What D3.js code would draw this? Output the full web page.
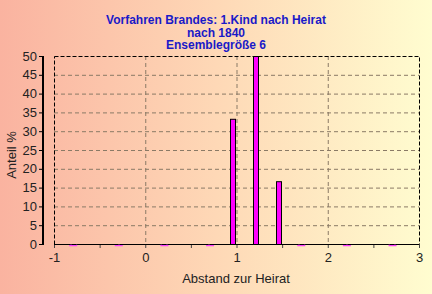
<!DOCTYPE html>
<html>
<head>
<meta charset="utf-8">
<script src="https://cdn.jsdelivr.net/npm/d3@7"></script>
<style>
  html, body { margin: 0; padding: 0; }
  svg { display: block; }
</style>
</head>
<body>
<div id="chart"></div>
<script>
// Werte
const binCenters = [-0.79, -0.29, 0.21, 0.71, 0.96, 1.21, 1.46, 1.71, 2.21, 2.71];
const binValues = [0, 0, 0, 0, 33.3, 50, 16.7, 0, 0, 0];
const xTicks = [-1, -0.5, 0, 0.5, 1, 1.5, 2, 2.5, 3];
const xLabels = [-1, 0, 1, 2, 3];
const yTicks = [0, 5, 10, 15, 20, 25, 30, 35, 40, 45, 50];
const titleLines = ["Vorfahren Brandes: 1.Kind nach Heirat", "nach 1840", "Ensemblegröße 6"];

const W = 432, H = 294;
const svg = d3.select("#chart").append("svg")
    .attr("width", W)
    .attr("height", H);

// Hintergrund-Verlauf
const grad = svg.append("defs").append("linearGradient")
    .attr("id", "bg")
    .attr("x1", "0%").attr("x2", "100%")
    .attr("y1", "0%").attr("y2", "0%");
grad.append("stop").attr("offset", "0%").attr("stop-color", "#fab3a0");
grad.append("stop").attr("offset", "50%").attr("stop-color", "#fed8b6");
grad.append("stop").attr("offset", "100%").attr("stop-color", "#fffdd0");
svg.append("rect").attr("width", W).attr("height", H).attr("fill", "url(#bg)");

const x = d3.scaleLinear().domain([-1, 3]).range([54, 419]);
const y = d3.scaleLinear().domain([0, 50]).range([244, 56]);

const font = "Liberation Sans, Arial, sans-serif";

// Gitter
svg.append("g").selectAll("line").data(yTicks.slice(1, -1)).join("line")
    .attr("x1", x(-1)).attr("x2", x(3))
    .attr("y1", d => y(d) + 0.5).attr("y2", d => y(d) + 0.5)
    .attr("stroke", "#8a7a66").attr("stroke-width", 1)
    .attr("stroke-dasharray", "4,3");

svg.append("g").selectAll("line").data([0, 1, 2]).join("line")
    .attr("x1", d => x(d) + 0.5).attr("x2", d => x(d) + 0.5)
    .attr("y1", y(50)).attr("y2", y(0))
    .attr("stroke", "#8a7a66").attr("stroke-width", 1)
    .attr("stroke-dasharray", "4,3");

// Rahmen (gestrichelt)
svg.append("rect")
    .attr("x", x(-1) + 0.5).attr("y", y(50) + 0.5)
    .attr("width", x(3) - x(-1)).attr("height", y(0) - y(50))
    .attr("fill", "none")
    .attr("stroke", "#000").attr("stroke-width", 1)
    .attr("stroke-dasharray", "4,2");

// Balken
const bw = 5;
svg.append("g").selectAll("rect").data(binCenters).join("rect")
    .attr("x", d => Math.round(x(d) - bw / 2) + 0.5)
    .attr("y", (d, i) => binValues[i] > 0 ? y(binValues[i]) + 0.5 : y(0) + 0.5)
    .attr("width", bw)
    .attr("height", (d, i) => binValues[i] > 0 ? y(0) - y(binValues[i]) : 0)
    .attr("fill", "#ff00ff")
    .attr("stroke", (d, i) => binValues[i] > 0 ? "#000" : "none");

// Nullwerte als magentafarbene Striche
svg.append("g").selectAll("line").data(binCenters.filter((d, i) => binValues[i] === 0)).join("line")
    .attr("x1", d => x(d) - 4).attr("x2", d => x(d) + 4)
    .attr("y1", y(0) + 1.5).attr("y2", y(0) + 1.5)
    .attr("stroke", "#ff40ff").attr("stroke-width", 1.5);

// Grundlinie
svg.append("line")
    .attr("x1", x(-1)).attr("x2", x(3))
    .attr("y1", y(0) + 0.5).attr("y2", y(0) + 0.5)
    .attr("stroke", "#000").attr("stroke-dasharray", "4,2");

// y-Achse
const yAxis = d3.axisLeft(y).tickValues(yTicks).tickSize(4).tickPadding(2);
const gy = svg.append("g")
    .attr("transform", "translate(43,0)")
    .call(yAxis);
gy.select(".domain").attr("stroke-width", 2).attr("d", `M0,${y(50)}V${y(0) + 1}`);
gy.selectAll("text")
    .attr("font-family", font)
    .attr("font-size", 13)
    .attr("fill", "#222");

// x-Achse
const xAxis = d3.axisBottom(x).tickValues(xTicks).tickSize(3)
    .tickFormat(d => xLabels.includes(d) ? d : "");
const gx = svg.append("g")
    .attr("transform", `translate(0,${y(0) + 1})`)
    .call(xAxis);
gx.select(".domain").remove();
gx.selectAll(".tick line").attr("stroke", "#444");
gx.selectAll("text")
    .attr("font-family", font)
    .attr("font-size", 13)
    .attr("fill", "#222")
    .attr("dy", "0.85em");

// Achsentitel
svg.append("text")
    .attr("x", 236).attr("y", 283)
    .attr("text-anchor", "middle")
    .attr("font-family", font)
    .attr("font-size", 13)
    .attr("fill", "#222")
    .text("Abstand zur Heirat");

svg.append("text")
    .attr("transform", "translate(16,155) rotate(-90)")
    .attr("text-anchor", "middle")
    .attr("font-family", font)
    .attr("font-size", 13)
    .attr("fill", "#222")
    .text("Anteil %");

// Titel
svg.append("g").selectAll("text").data(titleLines).join("text")
    .attr("x", 216)
    .attr("y", (d, i) => 24 + i * 12.5)
    .attr("text-anchor", "middle")
    .attr("font-family", font)
    .attr("font-weight", "bold")
    .attr("font-size", 12)
    .attr("fill", "#1a1ac8")
    .text(d => d);
</script>
</body>
</html>
